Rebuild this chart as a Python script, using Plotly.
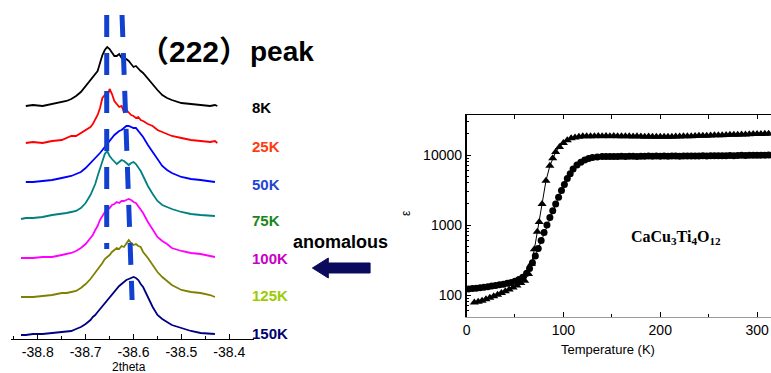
import plotly.graph_objects as go

# ---------------------------------------------------------------- data
# XRD (222) reflection, stacked by temperature (a.u., offset for clarity)
two_theta = [-38.835, -38.825, -38.81, -38.79, -38.77, -38.75, -38.74, -38.73,
             -38.72, -38.71, -38.70, -38.69, -38.685, -38.68, -38.675, -38.67,
             -38.665, -38.66, -38.655, -38.65, -38.645, -38.64, -38.635, -38.63,
             -38.625, -38.62, -38.615, -38.61, -38.605, -38.60, -38.595, -38.59,
             -38.585, -38.58, -38.57, -38.56, -38.55, -38.54, -38.53, -38.52,
             -38.50, -38.48, -38.46, -38.44, -38.43, -38.425]

int_8K = [None, 233, 234, 233, 235, 237, 238, 240, 243, 247, 253, 258, 261, 264,
          268, 276, 284, 289, 292, 290, 287, 283, 283, 285, 281, 279, 280, 278,
          275, 272, 273, 270, 268, 266, 260, 254, 249, 244, 241, 239, 236, 235,
          234, 233, 234, 233]
int_25K = [None, 196, 197, 196, 198, 199, 201, 203, 203, 206, 209, 212, 215, 219,
           224, 231, 241, 244, 242, 250, 245, 238, 235, 232, 233, 227, 229, 226,
           224, 223, 221, 222, 219, 218, 215, 213, 209, 207, 205, 203, 201, 199,
           198, 197, 198, 196]
int_50K = [None, 157, 157, 158, 159, 161, 162, 163, 165, 167, 171, 176, 178, 180,
           183, 186, 189, 192, 196, 199, 202, 204, 206, 208, 209, 211, 213, 213,
           212, 211, 211, 208, 205, 202, 194, 187, 179, 173, 169, 166, 162, 160,
           159, 158, 157, None]
int_75K = [120, 121, 121, 122, 124, 125, 126, 127, 128, 131, 136, 144, 149, 155,
           163, 171, 178, 185, 188, 183, 180, 177, 175, 177, 179, 178, 176, 174,
           176, 177, 175, 172, 168, 163, 153, 145, 138, 134, 132, 130, 127, 125,
           124, 123, 123, None]
int_100K = [81, 81, 81, 82, 82, 84, 85, 86, 88, 91, 95, 101, 104, 109, 113, 119,
            123, 127, 129, 131, 134, 135, 137, 136, 138, 138, 139, 140, 139, 137,
            136, 133, 130, 126, 117, 109, 102, 98, 95, 91, 88, 86, 85, 83, 82, None]
int_125K = [42, 42, 42, 43, 44, 46, 46, 47, 48, 51, 55, 60, 63, 66, 69, 73, 76,
            80, 82, 84, 87, 89, 91, 90, 93, 92, 95, 99, 96, 94, 95, 93, 92, 87,
            81, 74, 67, 62, 58, 54, 49, 47, 46, 44, 42, None]
int_150K = [4, 4, 5, 5, 6, 7, 7, 8, 10, 12, 15, 19, 22, 24, 27, 30, 33, 36, 39,
            42, 45, 48, 50, 53, 55, 57, 59, 60, 61, 62, 61, 59, 55, 52, 42, 32,
            24, 20, 17, 14, 11, 8, 6, 5, 5, None]

temp_labels = ["8K", "25K", "50K", "75K", "100K", "125K", "150K"]
curves = [int_8K, int_25K, int_50K, int_75K, int_100K, int_125K, int_150K]
curve_colors = ["#000000", "#ff0000", "#0000ff", "#008080", "#ff00ff", "#808000", "#000080"]
label_colors = ["#000000", "#ff3b10", "#1f45d5", "#17861a", "#c800c8", "#9acd00", "#000070"]

# peak-position guides: (2theta_top, level_top, 2theta_bottom, level_bottom)
peak_guides = [(-38.656, 324, -38.656, 90),
               (-38.624, 324, -38.603, 39)]

# Dielectric constant vs temperature, CaCu3Ti4O12
circ_T = [2, 6, 10, 14, 18, 22, 26, 30, 34, 38, 42, 46, 50, 54, 58, 62, 65, 68,
          71, 74, 77, 80, 83, 86, 89, 92, 95, 98, 101, 104, 107, 110, 114, 118,
          122, 126, 130, 135, 140, 144, 148, 152, 156, 160, 164, 168, 172, 176,
          180, 184, 188, 192, 196, 200, 204, 208, 212, 216, 220, 224, 228, 232,
          236, 240, 244, 248, 252, 256, 260, 264, 268, 272, 276, 280, 284, 288,
          292, 296, 300, 304, 308, 312, 316]
circ_eps = [122, 124, 125, 127, 129, 131, 134, 137, 140, 143, 147, 151, 157, 166,
            180, 205, 240, 290, 360, 460, 600, 780, 1000, 1280, 1600, 2000, 2500,
            3100, 3800, 4600, 5400, 6300, 7200, 7900, 8500, 8900, 9200, 9400, 9500,
            9500, 9550, 9500, 9550, 9600, 9550, 9600, 9600, 9550, 9600, 9600, 9650,
            9600, 9650, 9600, 9650, 9600, 9650, 9650, 9600, 9650, 9700, 9650, 9700,
            9700, 9750, 9700, 9750, 9800, 9750, 9800, 9800, 9850, 9800, 9850, 9900,
            9850, 9900, 9900, 9950, 9900, 9950, 10000, 9950]

tri_T = [8, 12, 16, 20, 24, 28, 32, 36, 40, 44, 48, 52, 56, 60, 64, 67, 70, 73,
         75, 78, 82, 86, 89, 92, 96, 100, 104, 108, 112, 116, 120, 124, 128, 132,
         136, 140, 144, 148, 152, 156, 160, 164, 168, 172, 176, 180, 184, 188,
         192, 196, 200, 204, 208, 212, 216, 220, 224, 228, 232, 236, 240, 244,
         248, 252, 256, 260, 264, 268, 272, 276, 280, 284, 288, 292, 296, 300,
         304, 308, 312, 316]
tri_eps = [78, 80, 83, 87, 91, 96, 101, 107, 113, 120, 128, 137, 148, 160, 200,
           280, 450, 800, 1100, 2000, 4300, 7000, 9000, 11000, 13000, 14800,
           16200, 17300, 17800, 18200, 18500, 18600, 18500, 18600, 18700, 18600,
           18700, 18600, 18700, 18600, 18500, 18600, 18500, 18400, 18500, 18400,
           18300, 18400, 18300, 18200, 18300, 18200, 18300, 18300, 18400, 18400,
           18500, 18500, 18600, 18700, 18800, 18800, 18900, 19000, 19100, 19100,
           19200, 19300, 19400, 19500, 19500, 19600, 19700, 19800, 19900, 19900,
           20000, 20100, 20200, 20300]

xrd_ticks = [-38.8, -38.7, -38.6, -38.5, -38.4]
xrd_ticktext = ["-38.8", "-38.7", "-38.6", "-38.5", "-38.4"]
eps_ticks = [100, 1000, 10000]

# ---------------------------------------------------------------- helpers
W, H = 771, 373
SANS = "Liberation Sans, Arial, Helvetica, sans-serif"
SERIF = "Liberation Serif, Times New Roman, serif"


def fx(p):
    return p / W


def fy(p):
    return 1 - p / H


fig = go.Figure()

# ---------------------------------------------------------------- left panel
for lab, vals, col in zip(temp_labels, curves, curve_colors):
    fig.add_trace(go.Scatter(x=two_theta, y=vals, mode="lines", name=lab,
                             line=dict(color=col, width=1.8),
                             xaxis="x", yaxis="y", showlegend=False))

for x0, y0, x1, y1 in peak_guides:
    fig.add_shape(type="line", xref="x", yref="y", x0=x0, y0=y0, x1=x1, y1=y1,
                  line=dict(color="#1240d0", width=5, dash="22px,16px"), layer="above")

label_y = [108, 146, 184, 221, 258, 295, 333]
for lab, col, yy in zip(temp_labels, label_colors, label_y):
    fig.add_annotation(x=fx(247), y=fy(yy), xref="paper", yref="paper", text=lab,
                       showarrow=False, xanchor="left", yanchor="middle",
                       font=dict(family=SANS, size=15, color=col, weight="bold"))

fig.add_annotation(x=fx(134), y=fy(52), xref="paper", yref="paper",
                   text="（222）", showarrow=False, xanchor="left", yanchor="middle",
                   font=dict(family=SANS + ", Noto Sans CJK SC", size=30,
                             color="black", weight="bold"))
fig.add_annotation(x=fx(245), y=fy(52), xref="paper", yref="paper",
                   text="peak", showarrow=False, xanchor="left", yanchor="middle",
                   font=dict(family=SANS, size=28, color="black", weight="bold"))

fig.add_annotation(x=fx(126), y=fy(367), xref="paper", yref="paper", text="2theta",
                   showarrow=False, xanchor="center", yanchor="middle",
                   font=dict(family=SANS, size=12, color="black"))

# "anomalous" callout with block arrow
fig.add_annotation(x=fx(288), y=fy(242), xref="paper", yref="paper", text="anomalous",
                   showarrow=False, xanchor="left", yanchor="middle",
                   font=dict(family=SANS, size=18, color="black", weight="bold"))
arrow_px = [(310, 268), (326, 258), (326, 263), (368, 263), (368, 273), (326, 273), (326, 278)]
arrow_path = "M " + " L ".join(f"{fx(a):.5f},{fy(b):.5f}" for a, b in arrow_px) + " Z"
fig.add_shape(type="path", xref="paper", yref="paper", path=arrow_path,
              fillcolor="#0b0b5e", line=dict(color="#0b0b5e", width=1))

# ---------------------------------------------------------------- right panel
fig.add_trace(go.Scatter(x=tri_T, y=tri_eps, mode="lines+markers", name="triangles",
                         line=dict(color="black", width=1),
                         marker=dict(symbol="triangle-up", size=8, color="black"),
                         xaxis="x2", yaxis="y2", showlegend=False, cliponaxis=False))
fig.add_trace(go.Scatter(x=circ_T, y=circ_eps, mode="lines+markers", name="circles",
                         line=dict(color="black", width=1),
                         marker=dict(symbol="circle", size=7, color="black"),
                         xaxis="x2", yaxis="y2", showlegend=False, cliponaxis=False))
# invisible carrier so the top (mirror) axis is drawn
fig.add_trace(go.Scatter(x=[0], y=[1000], mode="markers", marker=dict(opacity=0),
                         xaxis="x3", yaxis="y2", showlegend=False, hoverinfo="skip"))

fig.add_annotation(x=fx(676), y=fy(237), xref="paper", yref="paper",
                   text="CaCu<sub>3</sub>Ti<sub>4</sub>O<sub>12</sub>", showarrow=False,
                   xanchor="center", yanchor="middle",
                   font=dict(family=SERIF, size=16, color="black", weight="bold"))
fig.add_annotation(x=fx(607), y=fy(349), xref="paper", yref="paper",
                   text="Temperature (K)", showarrow=False, xanchor="center",
                   yanchor="middle", font=dict(family=SANS, size=13, color="black"))
fig.add_annotation(x=fx(404), y=fy(213), xref="paper", yref="paper", text="ε",
                   showarrow=False, textangle=-90, xanchor="center", yanchor="middle",
                   font=dict(family=SANS, size=12, color="black"))

minor_eps = [50, 60, 70, 80, 90, 200, 300, 400, 500, 600, 700, 800, 900,
             2000, 3000, 4000, 5000, 6000, 7000, 8000, 9000, 20000, 30000]

fig.update_layout(
    width=W, height=H, margin=dict(l=0, r=0, t=0, b=0),
    paper_bgcolor="white", plot_bgcolor="rgba(0,0,0,0)",
    xaxis=dict(domain=[fx(7), fx(251)], range=[-38.856, -38.349], anchor="y",
               showline=True, linecolor="black", linewidth=1, ticks="inside",
               ticklen=5, tickcolor="black", tickvals=xrd_ticks, ticktext=xrd_ticktext,
               tickfont=dict(family=SANS, size=14, color="black"),
               minor=dict(ticks="inside", ticklen=3, tickcolor="black",
                          tickvals=[-38.85, -38.75, -38.65, -38.55, -38.45, -38.35]),
               showgrid=False, zeroline=False),
    yaxis=dict(domain=[fy(339), 1], range=[0, 339], anchor="x", visible=False),
    xaxis2=dict(domain=[fx(465), 1], range=[0, 314.4], anchor="y2",
                showline=True, linecolor="#9a9a9a", linewidth=1, ticks="inside",
                ticklen=5, tickcolor="black", tickvals=[0, 100, 200, 300],
                tickfont=dict(family=SANS, size=14, color="black"),
                minor=dict(ticks="inside", ticklen=3, tickcolor="black",
                           tickvals=[50, 150, 250]),
                showgrid=False, zeroline=False),
    xaxis3=dict(overlaying="x2", anchor="y2", side="top", range=[0, 314.4],
                showline=True, linecolor="black", linewidth=1, ticks="inside",
                ticklen=4, tickcolor="black", tickvals=[0, 50, 100, 150, 200, 250, 300],
                showticklabels=False, showgrid=False, zeroline=False),
    yaxis2=dict(domain=[fy(317), fy(115)], type="log", range=[1.6857, 4.5717],
                anchor="x2", showline=True, linecolor="black", linewidth=1.5,
                ticks="inside", ticklen=5, tickcolor="black", tickvals=eps_ticks,
                ticktext=[str(v) for v in eps_ticks],
                tickfont=dict(family=SANS, size=14, color="black"),
                minor=dict(ticks="inside", ticklen=3, tickcolor="black",
                           tickvals=minor_eps),
                showgrid=False, zeroline=False),
)

fig.write_html("out.html")
